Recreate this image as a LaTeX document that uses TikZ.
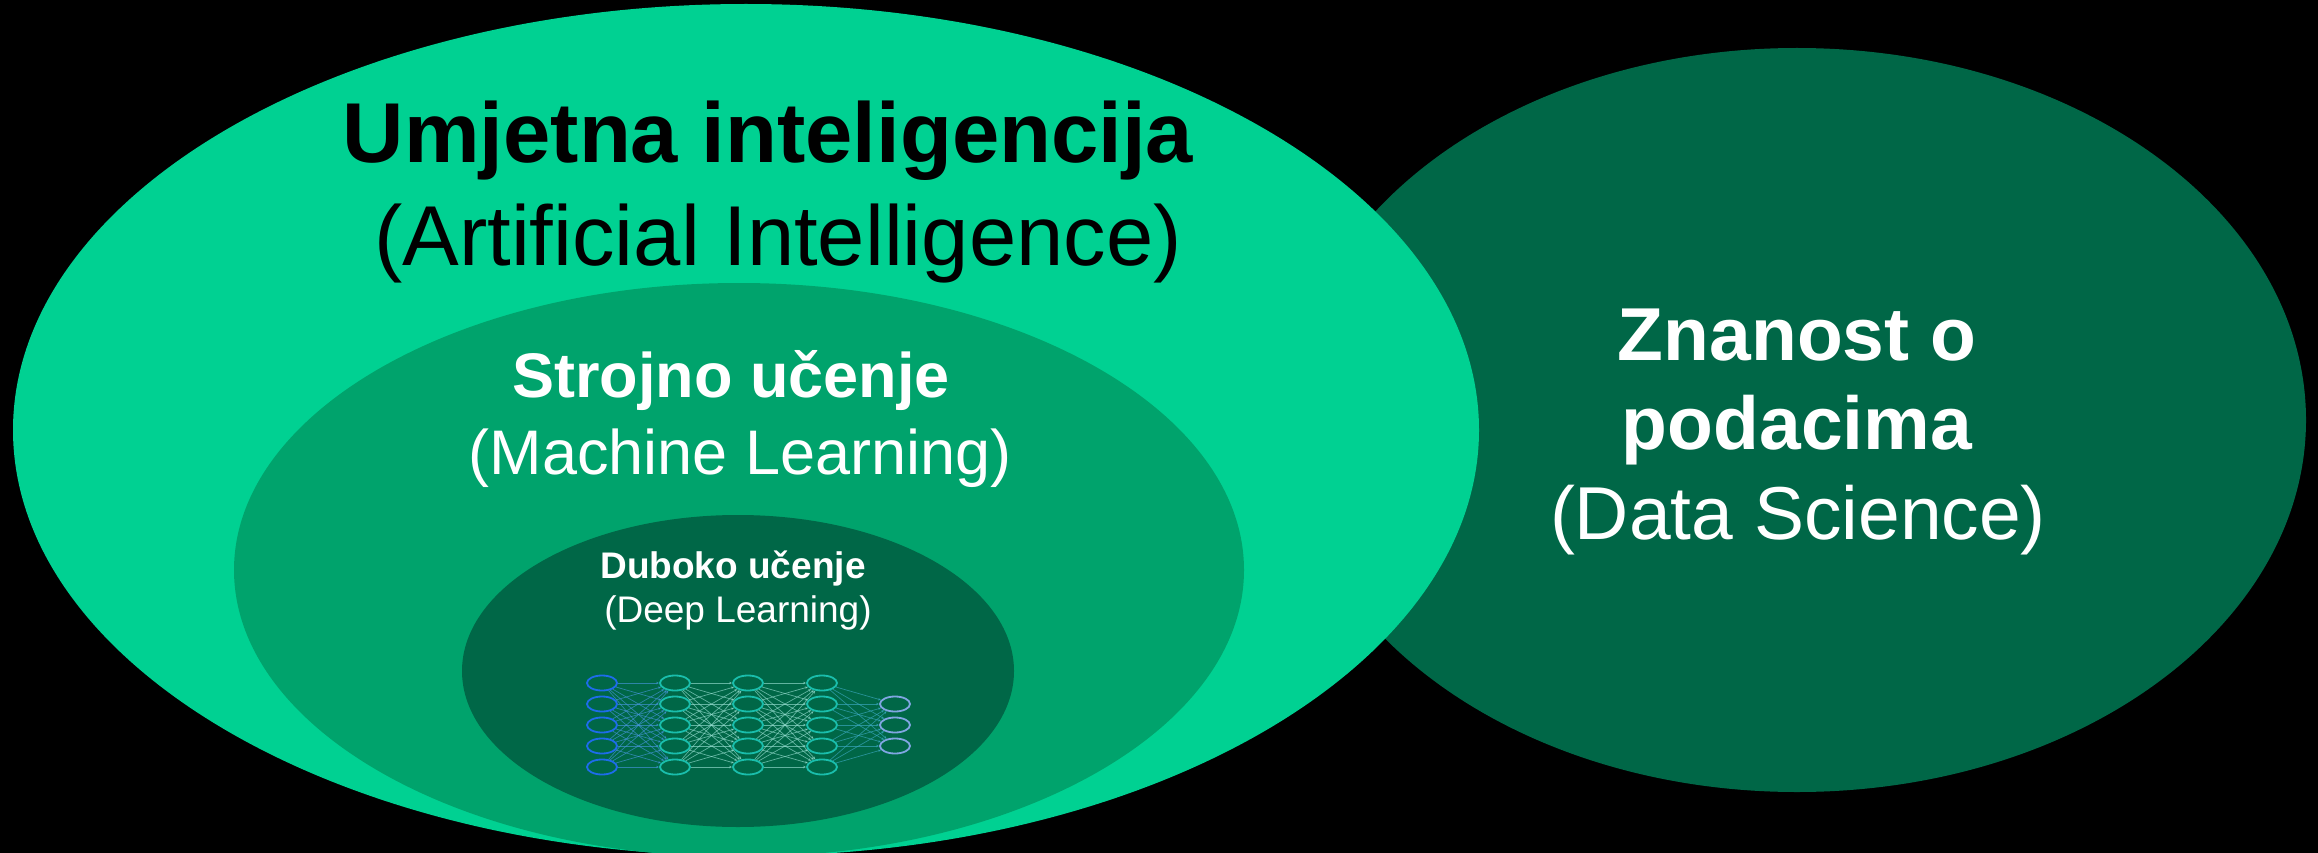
\documentclass[tikz,border=0pt]{standalone}
\usepackage{fontspec}
\setmainfont{Liberation Sans}
\usetikzlibrary{shapes.geometric, arrows.meta}

\definecolor{aigreen}{RGB}{0,209,146}
\definecolor{mlgreen}{RGB}{0,163,108}
\definecolor{dlgreen}{RGB}{0,103,71}
\definecolor{inblue}{RGB}{30,108,235}
\definecolor{hidteal}{RGB}{26,190,172}
\definecolor{outblue}{RGB}{128,166,226}
\definecolor{synblue}{RGB}{70,150,220}
\definecolor{synlight}{RGB}{150,222,208}
\definecolor{synteal}{RGB}{60,170,195}

\tikzset{
  blob/.style={ellipse, inner sep=0pt, draw=none},
  neuron/.style={ellipse, draw, line width=1.8pt, minimum width=30pt, minimum height=15pt, inner sep=0pt},
  synapse/.style={line width=0.7pt, opacity=0.65, -{Stealth[length=3pt, width=2.5pt]}},
  label/.style={anchor=base, inner sep=0pt},
}

\begin{document}
\begin{tikzpicture}[x=1pt, y=-1pt]
  % Background
  \fill[black] (0,0) rectangle (2318,853);
  \useasboundingbox (0,0) rectangle (2318,853);

  % Data science sits behind the AI field
  \node[blob, fill=dlgreen, minimum width=1018pt, minimum height=744pt] (ds) at (1797,420) {};

  % Nested fields
  \node[blob, fill=aigreen, minimum width=1466pt, minimum height=852pt] (ai) at (746,430) {};
  \node[blob, fill=mlgreen, minimum width=1010pt, minimum height=574pt] (ml) at (739,570) {};
  \node[blob, fill=dlgreen, minimum width=552pt, minimum height=312pt] (dl) at (738,671) {};

  % AI labels
  \node[label, font=\fontsize{85}{102}\bfseries] (aititle) at (768,163) {Umjetna inteligencija};
  \node[label, font=\fontsize{85}{102}\selectfont] (aisub) at (778,265) {(Artificial Intelligence)};

  % ML labels
  \node[label, text=white, font=\fontsize{63}{77}\bfseries] (mltitle) at (731,397) {Strojno učenje};
  \node[label, text=white, font=\fontsize{63}{77}\selectfont] (mlsub) at (740,474) {(Machine Learning)};

  % DL labels
  \node[label, text=white, font=\fontsize{37}{44}\bfseries] (dltitle) at (733,578) {Duboko učenje};
  \node[label, text=white, font=\fontsize{37}{44}\selectfont] (dlsub) at (738,622) {(Deep Learning)};

  % DS labels
  \node[label, text=white, font=\fontsize{75}{90}\bfseries] (dstitle) at (1797,360) {Znanost o};
  \node[label, text=white, font=\fontsize{75}{90}\bfseries] (dstitleb) at (1797,449) {podacima};
  \node[label, text=white, font=\fontsize{75}{90}\selectfont] (dssub) at (1798,539) {(Data Science)};

  % Network: four layers of five, then three outputs
  \foreach \l/\x/\c in {1/602/inblue, 2/675/hidteal, 3/748/hidteal, 4/822/hidteal}
    \foreach \i in {1,...,5}
      \node[neuron, draw=\c] (n\l\i) at (\x, 662+21*\i) {};
  \foreach \i in {1,2,3}
    \node[neuron, draw=outblue] (o\i) at (895, 683+21*\i) {};

  % Connections
  \foreach \l/\m/\c in {1/2/synblue, 2/3/synlight, 3/4/synlight}
    \foreach \i in {1,...,5}
      \foreach \j in {1,...,5}
        \draw[synapse, draw=\c] (n\l\i) -- (n\m\j);
  \foreach \i in {1,...,5}
    \foreach \j in {1,2,3}
      \draw[synapse, draw=synteal] (n4\i) -- (o\j);
\end{tikzpicture}
\end{document}
